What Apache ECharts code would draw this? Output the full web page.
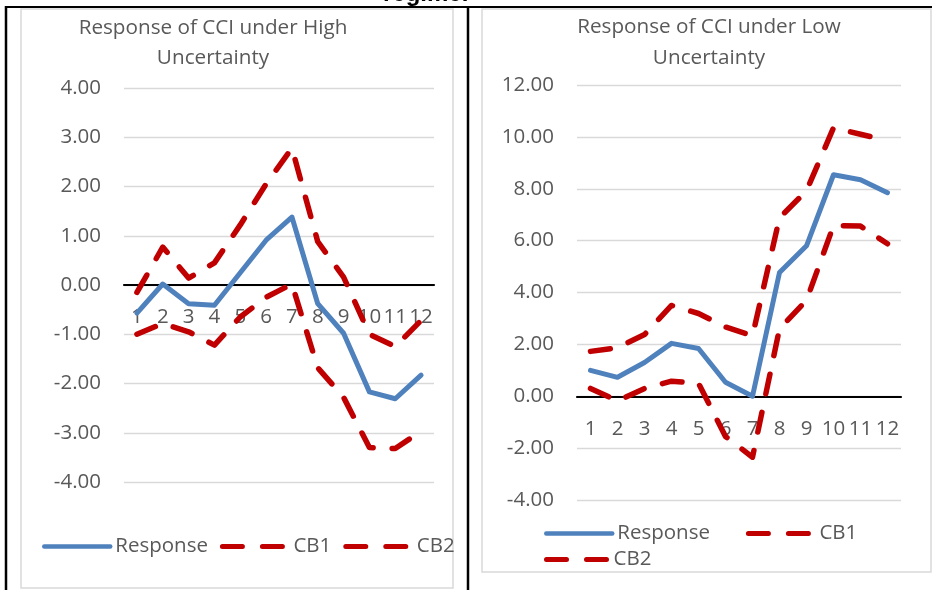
<!DOCTYPE html>
<html>
<head>
<meta charset="utf-8">
<script src="https://cdn.jsdelivr.net/npm/echarts@6/dist/echarts.min.js"></script>
<style>
html,body{margin:0;padding:0;background:#fff;}
#c{width:939px;height:590px;}
</style>
</head>
<body>
<div id="c"></div>
<script>
var categories = ['1','2','3','4','5','6','7','8','9','10','11','12'];
var highResponse = [-0.57, 0.02, -0.38, -0.41, 0.25, 0.91, 1.38, -0.38, -0.98, -2.17, -2.31, -1.83];
var highCB1 = [-0.15, 0.77, 0.14, 0.45, 1.22, 2.05, 2.78, 0.88, 0.16, -1.0, -1.25, -0.72];
var highCB2 = [-1.0, -0.78, -0.95, -1.22, -0.65, -0.25, 0.02, -1.68, -2.28, -3.3, -3.32, -2.97];
var lowResponse = [1.0, 0.73, 1.3, 2.04, 1.84, 0.54, 0.0, 4.77, 5.8, 8.54, 8.35, 7.85];
var lowCB1 = [1.73, 1.87, 2.38, 3.5, 3.19, 2.67, 2.33, 6.88, 7.92, 10.35, 10.1, 9.85];
var lowCB2 = [0.3, -0.18, 0.3, 0.58, 0.5, -1.55, -2.35, 2.6, 3.7, 6.58, 6.56, 5.88];
var highTicks = {min: -4, max: 4, interval: 1};
var lowTicks = {min: -4, max: 12, interval: 2};
var seriesNames = ['Response', 'CB1', 'CB2'];
var titleHigh = 'Response of CCI under High\nUncertainty';
var titleLow = 'Response of CCI under Low\nUncertainty';

var FONT = '"Open Sans", "Noto Sans", sans-serif';
var FS = 20.5;
var GREY_TXT = '#595959';
var BLUE = '#4F81BD';
var RED = '#C00000';
var DASH = [20, 19];

var grids = [
  {left: 124, right: 939 - 434, top: 88, bottom: 590 - 482},
  {left: 577, right: 939 - 901, top: 85, bottom: 590 - 500}
];
var tickSets = [highTicks, lowTicks];

// place the category axis (line + labels) at value 0 of the value axis
function zeroOffset(i) {
  var g = grids[i], t = tickSets[i];
  var h = 590 - g.top - g.bottom;
  return -h * (0 - t.min) / (t.max - t.min);
}

function xAxisFor(i) {
  return {
    type: 'category', gridIndex: i, data: categories, boundaryGap: true,
    position: 'bottom', offset: zeroOffset(i),
    axisLine: {onZero: false, lineStyle: {color: '#000', width: 2.2}},
    axisTick: {show: false},
    axisLabel: {interval: 0, color: GREY_TXT, fontSize: FS, fontFamily: FONT, margin: 22},
    splitLine: {show: false}
  };
}
function yAxisFor(i) {
  var t = tickSets[i];
  return {
    type: 'value', gridIndex: i, min: t.min, max: t.max, interval: t.interval,
    axisLine: {show: false}, axisTick: {show: false},
    axisLabel: {color: GREY_TXT, fontSize: FS, fontFamily: FONT, margin: 23,
      formatter: function (v) { return v.toFixed(2); }},
    splitLine: {lineStyle: {color: '#D9D9D9', width: 1.3}}
  };
}
function mkSeries(name, data, idx, dashed) {
  return {
    name: name, type: 'line', xAxisIndex: idx, yAxisIndex: idx, data: data,
    symbol: 'none', showSymbol: false, smooth: false, animation: false,
    lineStyle: dashed ? {color: RED, width: 5.5, type: DASH, cap: 'round', join: 'round'}
                      : {color: BLUE, width: 5, cap: 'round', join: 'round'},
    itemStyle: {color: dashed ? RED : BLUE}
  };
}
function legendItem(name) {
  var dashed = name !== 'Response';
  return {
    name: name,
    itemStyle: {opacity: 0},
    lineStyle: dashed ? {color: RED, width: 5, type: [20, 20], cap: 'round'}
                      : {color: BLUE, width: 4.5, type: 'solid', cap: 'round'}
  };
}
var legendText = {fontSize: FS, color: GREY_TXT, fontFamily: FONT};
var legendBase = {itemWidth: 66, itemHeight: 20, textStyle: legendText, selectedMode: false,
  itemStyle: {opacity: 0}, padding: 0};

var chart = echarts.init(document.getElementById('c'), null, {renderer: 'canvas'});
chart.setOption({
  animation: false,
  backgroundColor: '#fff',
  grid: grids.map(function (g) { return Object.assign({containLabel: false}, g); }),
  xAxis: [xAxisFor(0), xAxisFor(1)],
  yAxis: [yAxisFor(0), yAxisFor(1)],
  legend: [
    Object.assign({}, legendBase, {data: seriesNames.map(legendItem), left: 42, top: 536, itemGap: 12}),
    Object.assign({}, legendBase, {data: seriesNames.slice(0, 2).map(legendItem), left: 544, top: 523, itemGap: 36}),
    Object.assign({}, legendBase, {data: seriesNames.slice(2).map(legendItem), left: 544, top: 549, itemWidth: 62})
  ],
  series: [
    mkSeries(seriesNames[0], highResponse, 0, false),
    mkSeries(seriesNames[1], highCB1, 0, true),
    mkSeries(seriesNames[2], highCB2, 0, true),
    mkSeries(seriesNames[0], lowResponse, 1, false),
    mkSeries(seriesNames[1], lowCB1, 1, true),
    mkSeries(seriesNames[2], lowCB2, 1, true)
  ],
  graphic: [
    {type: 'rect', shape: {x: 21, y: 9, width: 432, height: 579}, style: {fill: 'none', stroke: '#D9D9D9', lineWidth: 1.5}, z: -1, silent: true},
    {type: 'rect', shape: {x: 482, y: 9, width: 449, height: 563}, style: {fill: 'none', stroke: '#D9D9D9', lineWidth: 1.5}, z: -1, silent: true},
    {type: 'line', shape: {x1: 6, y1: 7, x2: 932, y2: 7}, style: {stroke: '#000', lineWidth: 2}, silent: true},
    {type: 'line', shape: {x1: 6, y1: 6, x2: 6, y2: 590}, style: {stroke: '#000', lineWidth: 2.5}, silent: true},
    {type: 'line', shape: {x1: 468, y1: 6, x2: 468, y2: 590}, style: {stroke: '#000', lineWidth: 2.5}, silent: true},
    {type: 'text', style: {text: 'regime.', x: 383, y: 6, textVerticalAlign: 'bottom', font: 'bold 24px "Liberation Sans", sans-serif', fill: '#000'}, silent: true},
    {type: 'text', style: {text: titleHigh, x: 213, y: 13, textAlign: 'center', textVerticalAlign: 'top', fontSize: 20.7, fontFamily: FONT, lineHeight: 30, fill: GREY_TXT}, silent: true},
    {type: 'text', style: {text: titleLow, x: 709, y: 12, textAlign: 'center', textVerticalAlign: 'top', fontSize: 20.7, fontFamily: FONT, lineHeight: 31, fill: GREY_TXT}, silent: true}
  ]
});
</script>
</body>
</html>
